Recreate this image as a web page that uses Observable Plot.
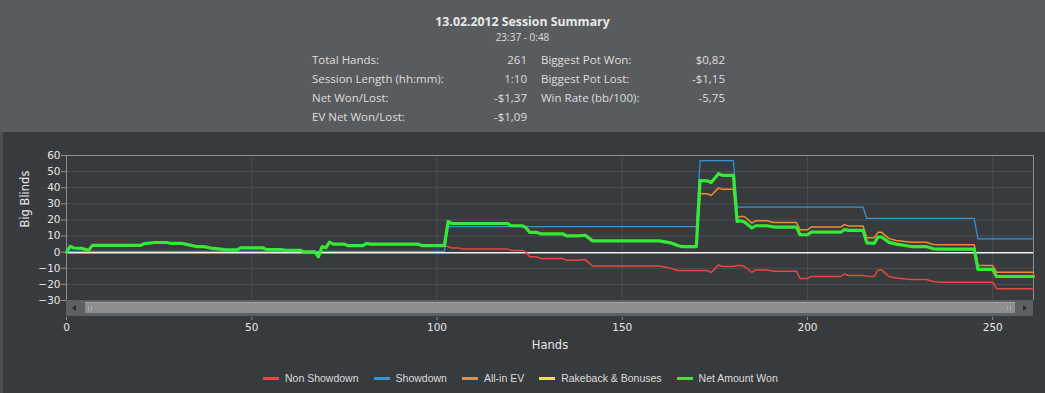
<!DOCTYPE html>
<html>
<head>
<meta charset="utf-8">
<script src="https://cdn.jsdelivr.net/npm/d3@7"></script>
<script src="https://cdn.jsdelivr.net/npm/@observablehq/plot@0.6"></script>
<style>
  html, body { margin: 0; padding: 0; }
  body { width: 1045px; height: 393px; overflow: hidden; background: #383b3e; position: relative; font-family: "DejaVu Sans", sans-serif; }
  #header { position: absolute; left: 0; top: 0; width: 1045px; height: 132px; background: #595c5f; font-family: "Open Sans", sans-serif; color: #e2e2e2; }
  #header .t { position: absolute; white-space: nowrap; }
  #title { left: 0; width: 1045px; text-align: center; top: 14.3px; font-size: 12.3px; line-height: 16px; font-weight: bold; color: #e8e8e8; }
  #subtitle { left: 0; width: 1045px; text-align: center; top: 30.4px; font-size: 10px; line-height: 14px; color: #dcdcdc; }
  .cell { font-size: 11.5px; line-height: 19px; color: #dedede; }
  .r { text-align: right; }
  #leftstrip { position: absolute; left: 0; top: 132px; width: 3px; height: 261px; background: #4d5053; }
  #chart { position: absolute; left: 0; top: 132px; }
  #chart svg text { font-family: "DejaVu Sans", sans-serif; }
  #scroll { position: absolute; left: 66px; top: 300px; width: 967px; height: 16px; background: #5e6164; }
  #thumb { position: absolute; left: 19px; top: 2px; width: 930px; height: 11px; background: #8b8d8f; border-top: 1px solid #a3a5a7; box-sizing: border-box; }
  .grip { position: absolute; top: 3px; width: 4px; height: 5px; border-left: 1px solid #a8aaac; border-right: 1px solid #a8aaac; box-sizing: border-box; }
  .arrowL { position: absolute; left: 6px; top: 5px; width: 0; height: 0; border-top: 3px solid transparent; border-bottom: 3px solid transparent; border-right: 4px solid #2a2c2e; }
  .arrowR { position: absolute; left: 957px; top: 5px; width: 0; height: 0; border-top: 3px solid transparent; border-bottom: 3px solid transparent; border-left: 4px solid #2a2c2e; }
  #legend { position: absolute; left: 263px; top: 370px; height: 16px; display: flex; align-items: center; font-family: "Liberation Sans", Arial, sans-serif; font-size: 10.5px; color: #dcdcdc; }
  .item { display: flex; align-items: center; margin-right: 15px; }
  .sw { width: 16px; height: 3px; margin-right: 6px; }
</style>
</head>
<body>
<div id="header"></div>
<div id="leftstrip"></div>
<div id="chart"></div>
<div id="scroll">
  <div class="arrowL"></div>
  <div id="thumb"><div class="grip" style="left:3px"></div><div class="grip" style="left:922px"></div></div>
  <div class="arrowR"></div>
</div>
<div id="legend"></div>
<script>
// ---- Header texts ----
const titleText = "13.02.2012 Session Summary";
const subtitleText = "23:37 - 0:48";
const statLabelsLeft = ["Total Hands:", "Session Length (hh:mm):", "Net Won/Lost:", "EV Net Won/Lost:"];
const statValuesLeft = ["261", "1:10", "-$1,37", "-$1,09"];
const statLabelsRight = ["Biggest Pot Won:", "Biggest Pot Lost:", "Win Rate (bb/100):"];
const statValuesRight = ["$0,82", "-$1,15", "-5,75"];

// ---- Axis ticks ----
const xTicks = [0, 50, 100, 150, 200, 250];
const yTicks = [-30, -20, -10, 0, 10, 20, 30, 40, 50, 60];
const xDomain = [0, 261];
const yDomain = [-30, 60];

// ---- Series (hand, big blinds) ----
const netEarly = [[0,0],[1,3.6],[2,2.6],[4,2.4],[5,1.8],[6,1.2],[7,4.2],[20,4.2],[21,5.3],[24,6.0],[27,6.0],[28,5.5],[31,5.5],[33,4.5],[35,3.5],[37,3.5],[39,2.5],[41,2.0],[43,1.4],[46,1.4],[47,2.7],[53,2.7],[54,1.6],[58,1.6],[59,1.2],[63,1.2],[64,0.2],[67,0.2],[68,-2.9],[69,3.5],[70,2.7],[71,6.2],[72,5.0],[75,5.0],[76,4.0],[80,4.0],[81,5.4],[82,5.0],[95,5.0],[96,4.0],[102,4.0]];
const netMid = [[103,19.0],[104,17.8],[119,17.8],[120,16.4],[123,16.4],[124,15.2],[125,12.3],[127,12.3],[128,11.3],[134,11.3],[135,10.1],[138,10.1],[140,10.5],[142,7.0],[160,7.0],[163,5.8],[165,4.1],[166,3.5],[170,3.5]];
const netLate = [[171,44.5],[173,44.2],[174,43.2],[176,48.7],[177,47.7],[180,47.7],[181,19.1],[182,19.5],[183,18.7],[185,15.0],[186,16.4],[189,16.4],[191,15.6],[197,15.6],[198,10.8],[200,10.8],[201,12.4],[209,12.4],[210,14.1],[211,13.5],[215,13.5],[216,5.8],[218,5.4],[219,9.4],[220,9.4],[222,6.1],[224,5.0],[228,3.5],[232,3.5],[234,2.1],[236,1.9],[245,1.9],[246,-10.7],[250,-10.7],[251,-15.1],[261,-15.1]];
const nonShowdownLate = [[103,3.5],[104,2.6],[106,2.6],[107,1.9],[119,1.9],[120,1.1],[123,1.1],[124,0],[125,-2.9],[127,-2.9],[128,-4.0],[134,-4.0],[135,-5.0],[138,-5.0],[140,-4.6],[142,-8.6],[160,-8.6],[163,-9.9],[165,-11.4],[173,-11.4],[174,-12.6],[176,-7.9],[177,-8.9],[180,-8.9],[181,-8.3],[182,-8.3],[183,-8.9],[185,-12.6],[186,-11.0],[189,-11.0],[191,-11.8],[197,-11.8],[198,-16.3],[200,-16.3],[201,-15.1],[209,-15.1],[210,-13.5],[211,-14.5],[215,-14.5],[216,-15.0],[218,-15.1],[219,-11.0],[220,-11.0],[222,-15.1],[224,-16.0],[228,-17.0],[232,-17.0],[234,-18.2],[236,-18.6],[250,-18.6],[251,-22.7],[261,-22.7]];
const showdown = [[0,0],[102,0],[103,15.3],[170,15.3],[171,56.3],[180,56.3],[181,27.5],[215,27.5],[216,20.5],[245,20.5],[246,7.7],[261,7.7]];
const allInLate = [[171,36.2],[173,36.2],[174,35.2],[176,39.9],[177,39.1],[180,39.1],[181,21.7],[182,22.1],[183,22.1],[185,18.0],[186,19.5],[189,19.5],[191,18.4],[197,18.4],[198,13.9],[200,13.9],[201,15.6],[209,15.6],[210,17.2],[211,16.2],[215,16.2],[216,9.0],[218,9.0],[219,12.3],[220,12.3],[222,8.4],[224,7.3],[228,6.2],[232,6.2],[234,4.8],[236,4.6],[245,4.6],[246,-8.3],[250,-8.3],[251,-12.4],[261,-12.4]];

const netAmountWon = netEarly.concat(netMid, netLate);
const nonShowdown = netEarly.concat(nonShowdownLate);
const allInEV = netEarly.concat(netMid, allInLate);
const rakebackBonuses = netAmountWon; // no rakeback: identical to net

const seriesNames = ["Non Showdown", "Showdown", "All-in EV", "Rakeback & Bonuses", "Net Amount Won"];
const seriesColors = ["#e8473f", "#3594da", "#f08a2e", "#efe23a", "#35ea35"];

// ---- Header ----
const header = document.getElementById("header");
function addText(cls, text, style) {
  const d = document.createElement("div");
  d.className = "t " + cls;
  d.textContent = text;
  Object.assign(d.style, style || {});
  header.appendChild(d);
}
addText("", titleText, {}); header.lastChild.id = "title";
addText("", subtitleText, {}); header.lastChild.id = "subtitle";
const rowTops = [50, 69, 88, 106.5];
statLabelsLeft.forEach((s, i) => addText("cell", s, {left: "312px", top: rowTops[i] + "px"}));
statValuesLeft.forEach((s, i) => addText("cell r", s, {right: (1045 - 527) + "px", top: rowTops[i] + "px"}));
statLabelsRight.forEach((s, i) => addText("cell", s, {left: "541px", top: rowTops[i] + "px"}));
statValuesRight.forEach((s, i) => addText("cell r", s, {right: (1045 - 725) + "px", top: rowTops[i] + "px"}));

// ---- Chart ----
const acc = {x: d => d[0], y: d => d[1]};
const plot = Plot.plot({
  width: 1045,
  height: 230,
  marginTop: 23,
  marginLeft: 66,
  marginRight: 12,
  marginBottom: 45,
  style: {background: "transparent", color: "#e6e6e6", fontFamily: "'DejaVu Sans', sans-serif", fontSize: "10.5px"},
  x: {domain: xDomain},
  y: {domain: yDomain, insetBottom: 17},
  marks: [
    Plot.ruleY(yTicks.filter(v => v > yDomain[0] && v < yDomain[1] && v !== 0), {stroke: "#4c4f52", strokeWidth: 1}),
    Plot.ruleX(xTicks.filter(v => v > xDomain[0]), {y1: yDomain[0], y2: yDomain[1], stroke: "#4c4f52", strokeWidth: 1}),
    Plot.ruleY([yDomain[1]], {stroke: "#8e8e8e", strokeWidth: 1.2}),
    Plot.ruleY([yDomain[0]], {stroke: "#6a6d70", strokeWidth: 1}),
    Plot.ruleX([xDomain[0], xDomain[1]], {y1: yDomain[0], y2: yDomain[1], stroke: "#8e8e8e", strokeWidth: 1}),
    Plot.axisY({ticks: yTicks, tickSize: 5, tickPadding: 1, label: null, stroke: "#8e8e8e", fill: "#e6e6e6"}),
    Plot.axisX({ticks: xTicks, tickSize: 3, tickPadding: 3, label: null, stroke: "#8e8e8e", fill: "#e6e6e6"}),
    Plot.ruleY([0], {stroke: "#f2f2f2", strokeWidth: 1.6, dy: 0.6}),
    Plot.line(showdown, {...acc, stroke: seriesColors[1], strokeWidth: 1.2, dy: -0.8}),
    Plot.line(nonShowdown, {...acc, stroke: seriesColors[0], strokeWidth: 1.5}),
    Plot.line(allInEV, {...acc, stroke: seriesColors[2], strokeWidth: 1.5}),
    Plot.line(rakebackBonuses, {...acc, stroke: seriesColors[3], strokeWidth: 1.5}),
    Plot.line(netAmountWon, {...acc, stroke: seriesColors[4], strokeWidth: 3.2}),
    Plot.text(["Big Blinds"], {frameAnchor: "left", dx: -41, dy: -9, rotate: -90, fontSize: 11.5, fill: "#e6e6e6"}),
    Plot.text(["Hands"], {frameAnchor: "bottom", dy: 31, fontSize: 11.5, fill: "#e6e6e6"})
  ]
});
document.getElementById("chart").appendChild(plot);

// ---- Legend ----
const legend = document.getElementById("legend");
seriesNames.forEach((name, i) => {
  const it = document.createElement("div");
  it.className = "item";
  const sw = document.createElement("div");
  sw.className = "sw";
  sw.style.background = seriesColors[i];
  const tx = document.createElement("span");
  tx.textContent = name;
  it.appendChild(sw); it.appendChild(tx);
  legend.appendChild(it);
});
</script>
</body>
</html>
